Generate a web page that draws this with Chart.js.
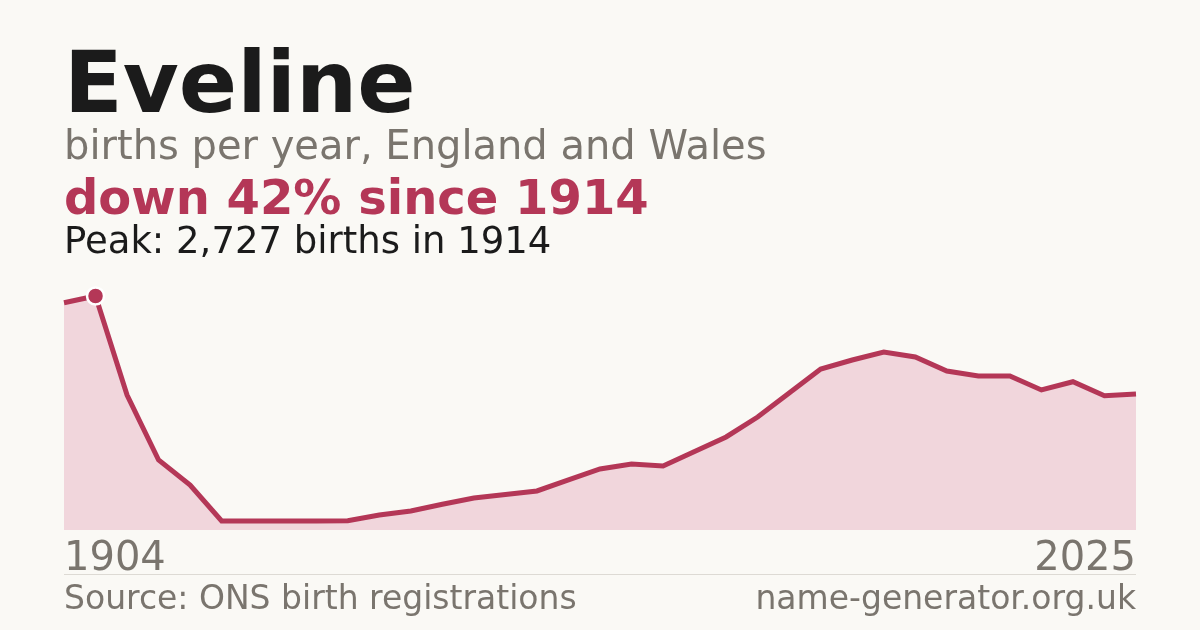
<!DOCTYPE html>
<html>
<head>
<meta charset="utf-8">
<script src="https://cdn.jsdelivr.net/npm/chart.js@4/dist/chart.umd.min.js"></script>
<style>
  html, body { margin: 0; padding: 0; background: #faf9f5; }
  #wrap { position: relative; width: 1200px; height: 630px; }
</style>
</head>
<body>
<div id="wrap"><canvas id="chart" width="1200" height="630"></canvas></div>
<script>
// Eveline, births per year (England and Wales)
const years = [
  1904, 1914, 1924, 1934, 1944, 1954, 1964, 1974, 1984, 1994,
  2001, 2002, 2003, 2004, 2005, 2006, 2007, 2008, 2009, 2010,
  2011, 2012, 2013, 2014, 2015, 2016, 2017, 2018, 2019, 2020,
  2021, 2022, 2023, 2024, 2025,
]
const births = [
  2649, 2727, 1573, 816, 524, 105, 105, 105, 105, 108,
  175, 221, 300, 373, 414, 455, 583, 711, 769, 746,
  915, 1084, 1317, 1597, 1876, 1981, 2074, 2016, 1853, 1795,
  1795, 1632, 1728, 1565, 1585,
]
const peakYear = 1914
const peakValue = 2727

const BG = '#faf9f5'
const RED = '#b43757'
const FILL = '#f1d6dc'
const INK = '#1b1b1b'
const GREY = '#7a756e'
const FONT = '"DejaVu Sans", sans-serif'

const peakIndex = years.indexOf(peakYear)

// titles, axis end labels and footer
const textPlugin = {
  id: 'texts',
  afterDraw(chart) {
    const ctx = chart.ctx
    const { left, right } = chart.chartArea
    ctx.save()
    ctx.textBaseline = 'alphabetic'
    ctx.textAlign = 'left'

    ctx.fillStyle = INK
    ctx.font = `bold 86px ${FONT}`
    ctx.fillText('Eveline', left, 112)

    ctx.fillStyle = GREY
    ctx.font = `40px ${FONT}`
    ctx.fillText('births per year, England and Wales', left, 159)

    ctx.fillStyle = RED
    ctx.font = `bold 48px ${FONT}`
    ctx.fillText('down 42% since 1914', left, 214)

    ctx.fillStyle = INK
    ctx.font = `37px ${FONT}`
    ctx.fillText('Peak: 2,727 births in 1914', left, 253)

    ctx.fillStyle = GREY
    ctx.font = `40px ${FONT}`
    ctx.fillText(String(years[0]), left, 570)
    ctx.textAlign = 'right'
    ctx.fillText(String(years[years.length - 1]), right, 570)

    ctx.strokeStyle = '#dddad4'
    ctx.lineWidth = 1
    ctx.beginPath()
    ctx.moveTo(left, 574.5)
    ctx.lineTo(right, 574.5)
    ctx.stroke()

    ctx.font = `33px ${FONT}`
    ctx.textAlign = 'left'
    ctx.fillText('Source: ONS birth registrations', left, 609)
    ctx.textAlign = 'right'
    ctx.fillText('name-generator.org.uk', right, 609)
    ctx.restore()
  },
}

new Chart(document.getElementById('chart'), {
  type: 'line',
  data: {
    labels: years,
    datasets: [
      {
        data: births,
        borderColor: RED,
        borderWidth: 5,
        fill: 'origin',
        backgroundColor: FILL,
        tension: 0,
        clip: false,
        pointRadius: births.map((v, i) => (i === peakIndex ? 8.5 : 0)),
        pointBackgroundColor: RED,
        pointBorderColor: '#ffffff',
        pointBorderWidth: 2.5,
      },
    ],
  },
  options: {
    responsive: false,
    animation: false,
    events: [],
    layout: { padding: { left: 64, right: 64, top: 296, bottom: 100 } },
    plugins: {
      legend: { display: false },
      tooltip: { enabled: false },
    },
    scales: {
      x: { display: false, offset: false },
      y: { display: false, min: 0, max: peakValue },
    },
  },
  plugins: [
    textPlugin,
    {
      id: 'bg',
      beforeDraw(chart) {
        const ctx = chart.ctx
        ctx.save()
        ctx.fillStyle = BG
        ctx.fillRect(0, 0, chart.width, chart.height)
        ctx.restore()
      },
    },
  ],
})
</script>
</body>
</html>
